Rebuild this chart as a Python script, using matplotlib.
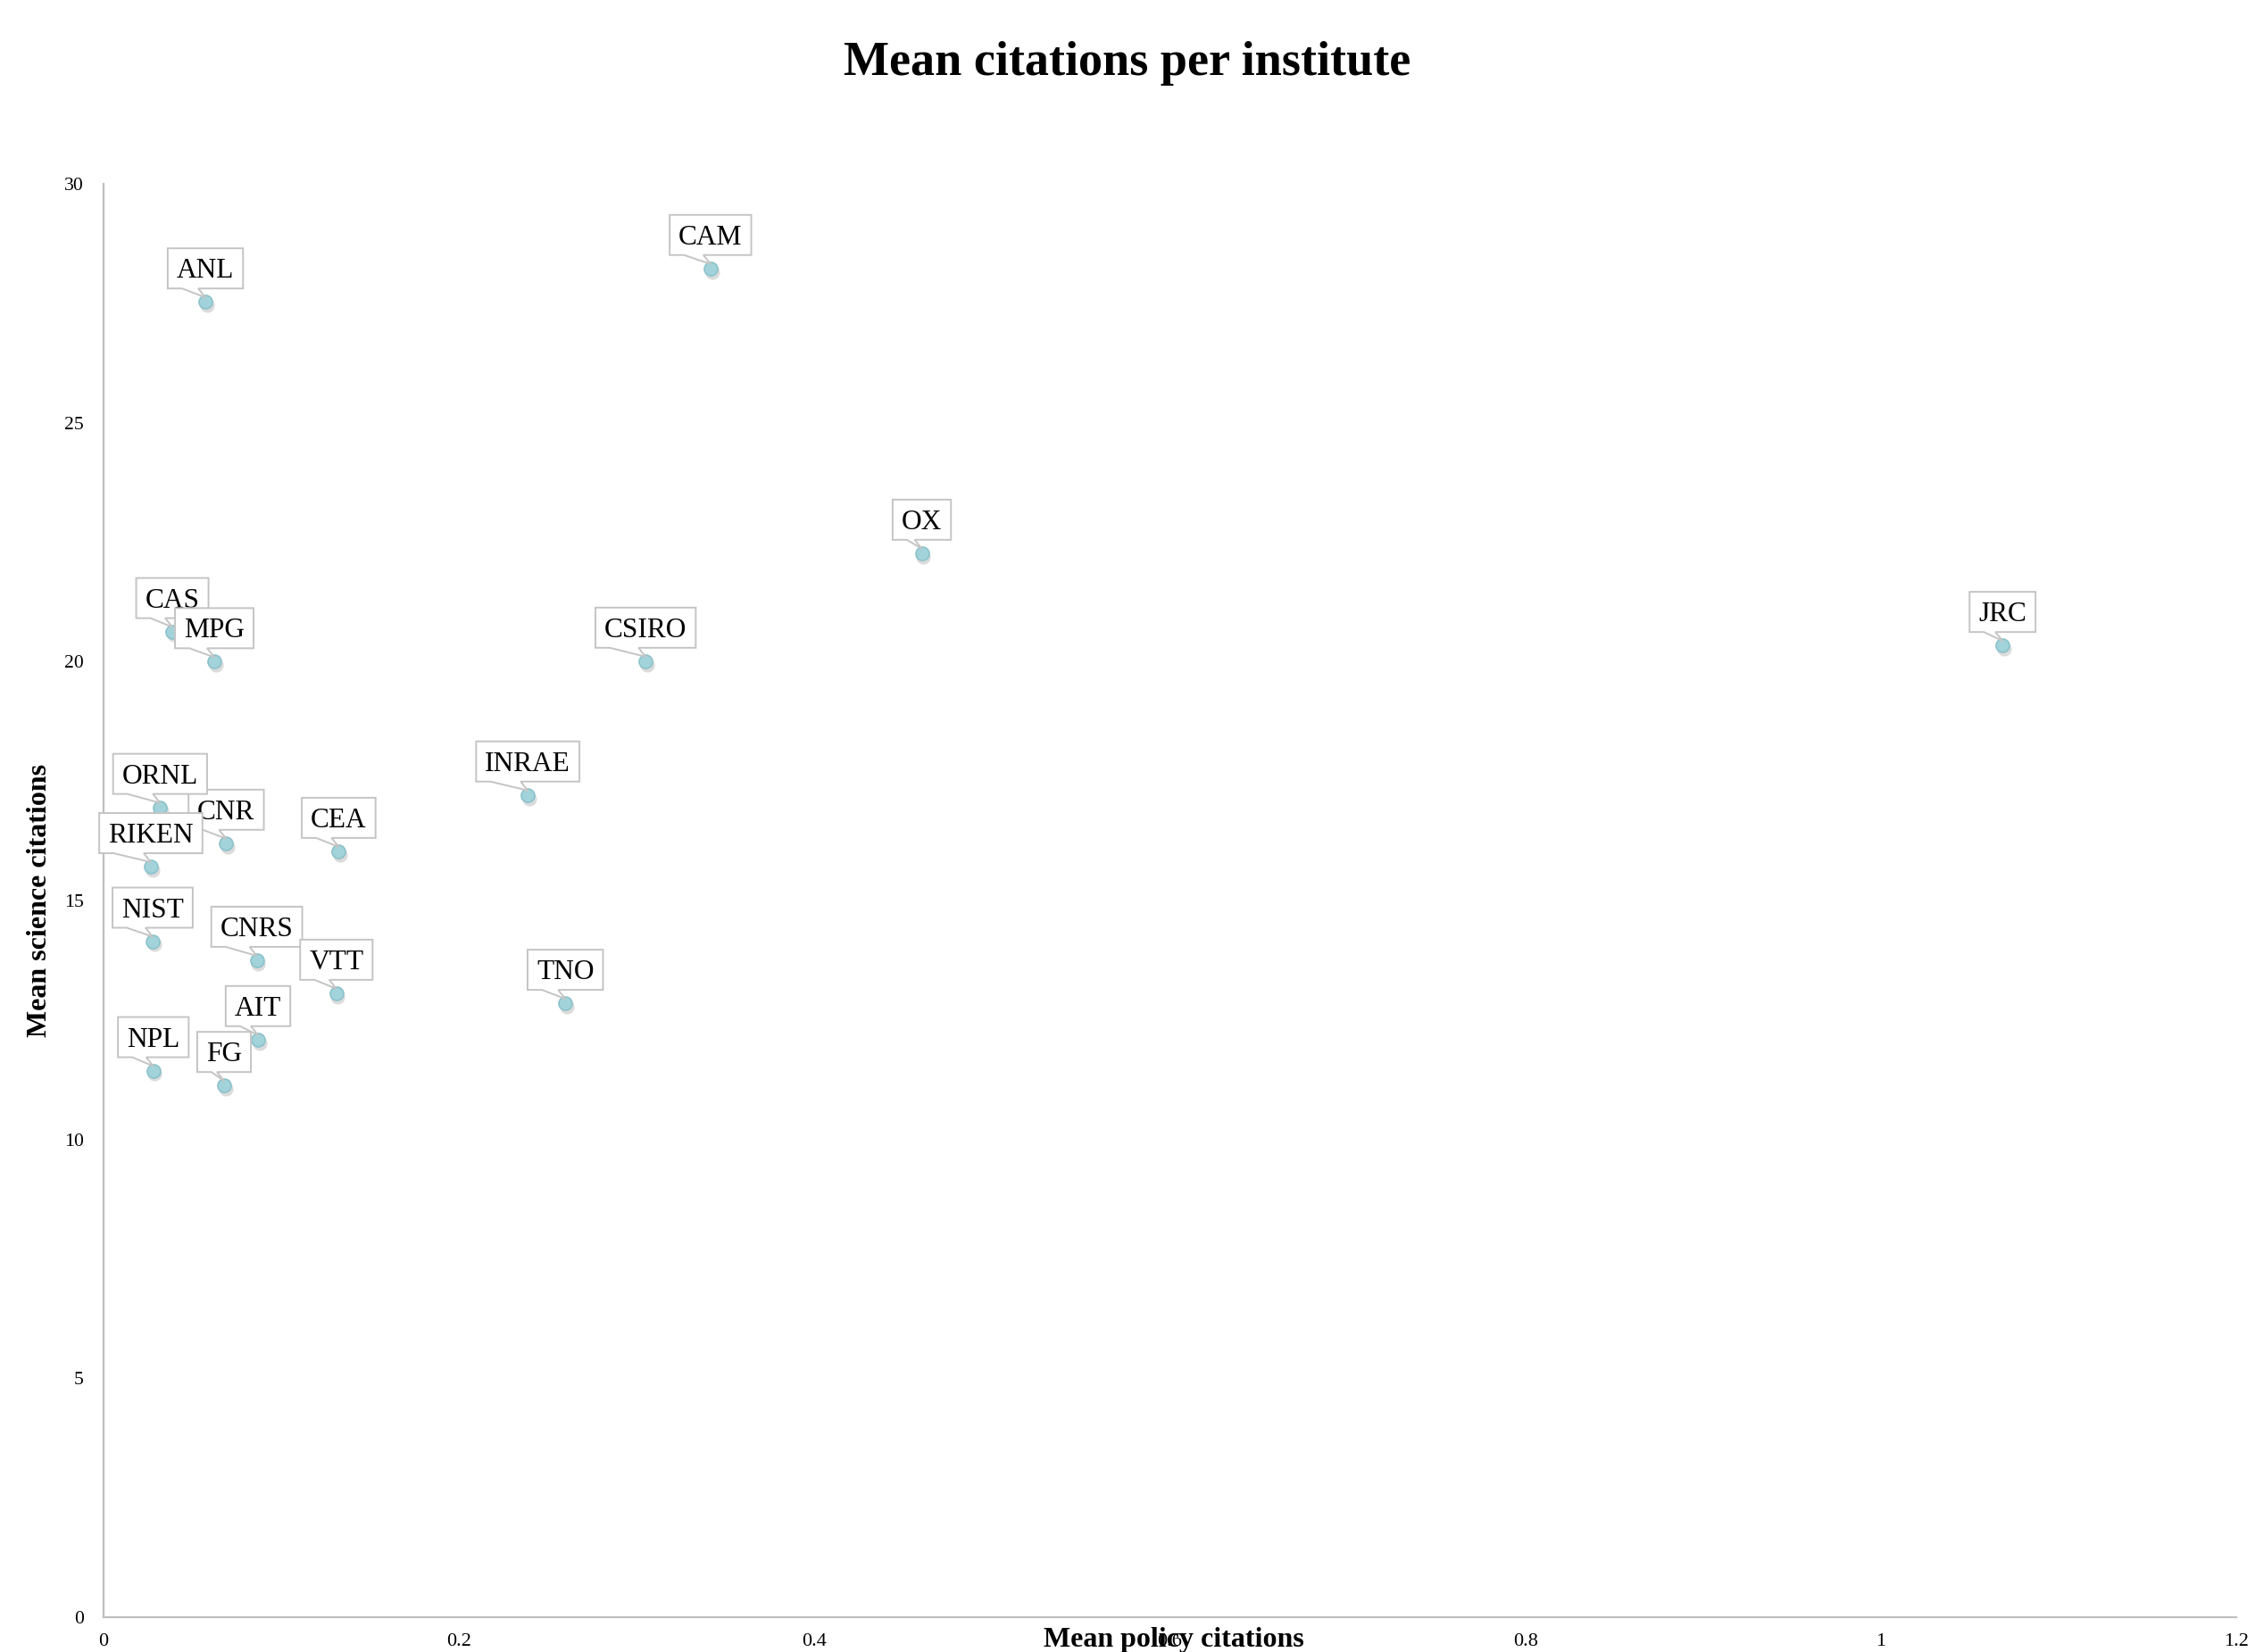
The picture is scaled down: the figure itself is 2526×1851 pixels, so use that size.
import matplotlib
matplotlib.use('Agg')
import matplotlib.pyplot as plt
import matplotlib.patches as mpatches
import matplotlib.transforms as mtransforms

# institutes and their mean citations (policy on x, science on y)
names = ['ANL', 'CAM', 'OX', 'JRC', 'CAS', 'MPG', 'CSIRO', 'INRAE', 'CNR', 'ORNL',
         'RIKEN', 'CEA', 'NIST', 'CNRS', 'VTT', 'AIT', 'FG', 'NPL', 'TNO']
policy = [0.0573, 0.3415, 0.4604, 1.0685, 0.0387, 0.0623, 0.305, 0.2387, 0.069, 0.0318,
          0.0266, 0.1323, 0.0276, 0.0862, 0.131, 0.0869, 0.0678, 0.028, 0.2598]
science = [27.53, 28.23, 22.27, 20.34, 20.63, 20.0, 20.01, 17.21, 16.2, 16.95,
           15.71, 16.03, 14.15, 13.75, 13.06, 12.09, 11.13, 11.44, 12.85]

xticks = [0, 0.2, 0.4, 0.6, 0.8, 1, 1.2]
xtick_labels = ['0', '0.2', '0.4', '0.6', '0.8', '1', '1.2']
yticks = [0, 5, 10, 15, 20, 25, 30]

serif = ['Liberation Serif', 'DejaVu Serif']
plt.rcParams['font.family'] = serif

DPI = 200
fig = plt.figure(figsize=(2526 / DPI, 1851 / DPI), dpi=DPI)
ax = fig.add_axes([116 / 2526, 1 - 1812 / 1851, 2389 / 2526, 1606 / 1851])

ax.set_xlim(0, 1.2)
ax.set_ylim(0, 30)
ax.set_xticks(xticks)
ax.set_xticklabels(xtick_labels)
ax.set_yticks(yticks)
for s in ['top', 'right']:
    ax.spines[s].set_visible(False)
for s in ['left', 'bottom']:
    ax.spines[s].set_color('#bfbfbf')
    ax.spines[s].set_linewidth(0.8)
ax.tick_params(axis='x', length=0, pad=6.5, labelsize=8)
ax.tick_params(axis='y', length=0, pad=8, labelsize=7.8)

# marker shadow then marker
shadow = mtransforms.offset_copy(ax.transData, fig=fig, x=0.6, y=-1.4, units='points')
ax.plot(policy, science, 'o', ms=5.8, color='#9a9a9a', alpha=0.35, mec='none',
        transform=shadow, zorder=4, clip_on=False)
ax.plot(policy, science, 'o', ms=5.4, mfc='#a3d3da', mec='#8bc2cb', mew=0.6,
        zorder=5, clip_on=False, linestyle='none')

texts = []
for i, (n, xv, yv) in enumerate(zip(names, policy, science)):
    t = ax.annotate(n, (xv, yv), xytext=(0, 27 * 72 / DPI), textcoords='offset points',
                    ha='center', va='baseline', fontsize=11.3, color='black',
                    zorder=11 + 2 * i, annotation_clip=False)
    texts.append(t)

fig.text(0.5, 1 - 71 / 1851, 'Mean citations per institute', ha='center', va='center',
         fontsize=19.5, fontweight='bold')
ax.set_xlabel('Mean policy citations', fontsize=11.5, fontweight='bold')
ax.xaxis.set_label_coords((1315 - 116) / 2389, (1812 - 1837) / 1606)
ax.xaxis.label.set_va('center')
ax.set_ylabel('Mean science citations', fontsize=11.5, fontweight='bold')
ax.yaxis.set_label_coords((45 - 116) / 2389, 0.5)
ax.yaxis.label.set_va('center')

# callout boxes, built in pixels once layout is fixed
fig.canvas.draw()
renderer = fig.canvas.get_renderer()
for i, (xv, yv) in enumerate(zip(policy, science)):
    px, py = ax.transData.transform((xv, yv))
    w = texts[i].get_window_extent(renderer).width
    left = px - w / 2 - 10
    right = px + w / 2 + 10
    bot = py + 15
    top = py + 60
    verts = [(left, bot), (left + 16, bot), (px, py + 5), (px - 8, bot),
             (right, bot), (right, top), (left, top)]
    poly = mpatches.Polygon(verts, closed=True, fc='white', ec='#c4c4c4', lw=0.7,
                            transform=mtransforms.IdentityTransform(),
                            zorder=10 + 2 * i, clip_on=False)
    ax.add_patch(poly)

fig.savefig('out.png', dpi=DPI)
